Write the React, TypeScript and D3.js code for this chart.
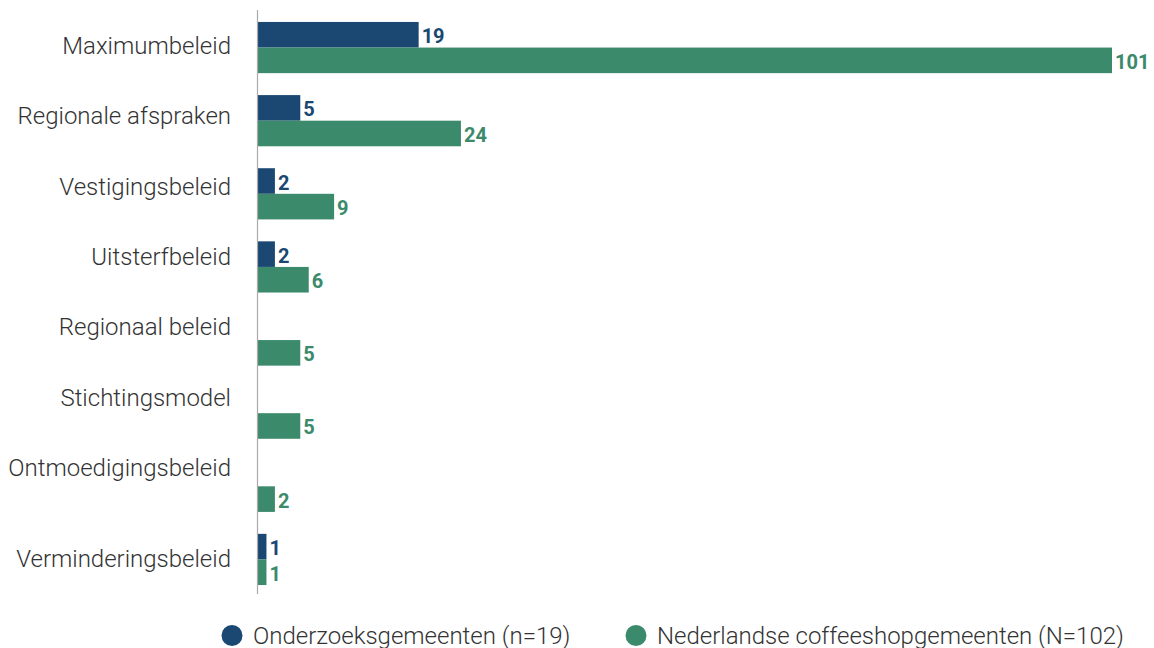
import React from "react";
import * as d3 from "d3";

const categories = [
  "Maximumbeleid",
  "Regionale afspraken",
  "Vestigingsbeleid",
  "Uitsterfbeleid",
  "Regionaal beleid",
  "Stichtingsmodel",
  "Ontmoedigingsbeleid",
  "Verminderingsbeleid",
];
const onderzoek: (number | null)[] = [19, 5, 2, 2, null, null, null, 1];
const nederland: number[] = [101, 24, 9, 6, 5, 5, 2, 1];
const seriesNames = ["Onderzoeksgemeenten (n=19)", "Nederlandse coffeeshopgemeenten (N=102)"];
const colors = ["#1a4872", "#3b8a6c"];

const W = 1154;
const H = 648;
const FONT = "Roboto, 'Noto Sans', sans-serif";

export default function App() {
  const x = d3.scaleLinear().domain([0, 101]).range([258, 1112]);
  const y = d3
    .scaleBand<string>()
    .domain(categories)
    .range([11, 596])
    .paddingInner(0.3)
    .paddingOuter(0.15);
  const sub = d3.scaleBand<number>().domain([0, 1]).range([0, y.bandwidth()]);
  // category labels follow the original's own row layout
  const labelY = d3
    .scalePoint<string>()
    .domain(categories.slice(0, 7))
    .range([45.5, 467.5]);
  const labelPos = (c: string, i: number) =>
    i < 7 ? (labelY(c) as number) : (y(c) as number) + y.bandwidth() / 2 - 1;

  const series = [onderzoek, nederland];

  return (
    <svg width={W} height={H} style={{ position: "absolute", left: 0, top: 0 }} fontFamily={FONT}>
      <rect width={W} height={H} fill="#fff" />
      {categories.map((c, i) => (
        <text
          key={c}
          x={231}
          y={labelPos(c, i)}
          dy="0.35em"
          textAnchor="end"
          fontSize={24}
          fontWeight={300}
          fill="#333"
        >
          {c}
        </text>
      ))}
      {series.map((vals, si) =>
        categories.map((c, i) => {
          const v = vals[i];
          if (v == null) return null;
          const y0 = (y(c) as number) + (sub(si) as number);
          const h = sub.bandwidth();
          return (
            <g key={`${si}-${c}`}>
              <rect x={x(0)} y={y0} width={x(v) - x(0)} height={h} fill={colors[si]} />
              <text
                x={x(v) + 3}
                y={y0 + h / 2 + 1.5}
                dy="0.35em"
                fontSize={20}
                fontWeight={700}
                fill={colors[si]}
              >
                {v}
              </text>
            </g>
          );
        })
      )}
      <line x1={257.5} x2={257.5} y1={10} y2={594} stroke="#aaa" strokeWidth={1.2} />
      {seriesNames.map((s, si) => {
        const cx = si === 0 ? 232 : 636;
        return (
          <g key={s}>
            <circle cx={cx} cy={635.5} r={10.5} fill={colors[si]} />
            <text x={cx + 21} y={635.5} dy="0.35em" fontSize={24} fontWeight={300} fill="#333">
              {s}
            </text>
          </g>
        );
      })}
    </svg>
  );
}
